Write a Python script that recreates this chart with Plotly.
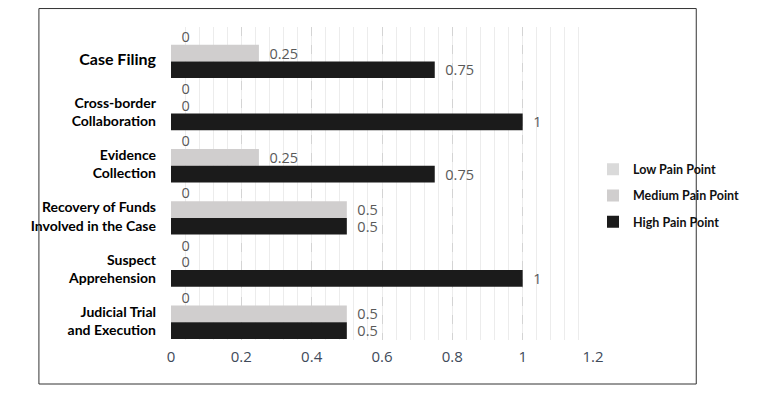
import plotly.graph_objects as go

categories = ["Case Filing", "Cross-border<br>Collaboration", "Evidence<br>Collection",
              "Recovery of Funds<br>Involved in the Case", "Suspect<br>Apprehension",
              "Judicial Trial<br>and Execution"]
series_names = ["Low Pain Point", "Medium Pain Point", "High Pain Point"]
low_values = [0, 0, 0, 0, 0, 0]
medium_values = [0.25, 0, 0.25, 0.5, 0, 0.5]
high_values = [0.75, 1, 0.75, 0.5, 1, 0.5]
x_tick_values = [0, 0.2, 0.4, 0.6, 0.8, 1, 1.2]
x_tick_labels = ["0", "0.2", "0.4", "0.6", "0.8", "1", "1.2"]

colors = ["#dadada", "#d0cece", "#1b1b1b"]
series = [low_values, medium_values, high_values]

NB = "\u00a0"
fig = go.Figure()
for i, (name, vals) in enumerate(zip(series_names, series)):
    fig.add_trace(go.Bar(
        y=categories, x=vals, name=f"<b>{name}</b>", orientation="h",
        marker=dict(color=colors[i], line=dict(width=0)),
        text=[NB * 2 + f"{v:g}" for v in vals],
        textposition="outside",
        constraintext="none",
        textfont=dict(family="Open Sans", size=14.5, color="#595959"),
        cliponaxis=False,
        legendgroup=name,
    ))

tick_text = []
for c in categories:
    size = 16 if c == "Case Filing" else 14
    tick_text.append(f"<span style='font-size:{size}px'><b>{c}</b></span>")

fig.update_layout(
    width=749, height=388,
    margin=dict(l=163, r=161, t=19, b=56),
    paper_bgcolor="white", plot_bgcolor="white",
    barmode="group", bargap=0.04, bargroupgap=0,
    showlegend=True,
    legend=dict(x=1.0, xanchor="left", y=0.592, yanchor="top",
                font=dict(family="Lato", size=12.5, color="#111111"),
                tracegroupgap=7, traceorder="grouped",
                bgcolor="rgba(0,0,0,0)"),
    font=dict(family="Lato"),
)
fig.update_xaxes(
    range=[0, 1.2], tickvals=x_tick_values, ticktext=x_tick_labels,
    showgrid=True, gridcolor="#d4d4d4", griddash="dash", gridwidth=1,
    minor=dict(dtick=0.04, showgrid=True, gridcolor="#ececec", gridwidth=1,
               griddash="solid"),
    zeroline=False, showline=False, ticks="",
    tickfont=dict(family="Open Sans", size=15, color="#404a5a"),
    ticklabelstandoff=6,
)
fig.update_yaxes(
    categoryorder="array", categoryarray=categories, autorange="reversed",
    tickvals=categories, ticktext=tick_text,
    tickfont=dict(family="Lato", size=14, color="#000000"),
    showgrid=False, zeroline=False, showline=False, ticks="",
    ticklabelstandoff=14, ticklabelshift=-7,
)
fig.add_shape(type="rect", xref="paper", yref="paper",
              x0=-0.313, x1=1.2447, y0=-0.1406, y1=1.059,
              line=dict(color="#333333", width=1), fillcolor="rgba(0,0,0,0)",
              layer="above")

fig.write_html("out.html")
